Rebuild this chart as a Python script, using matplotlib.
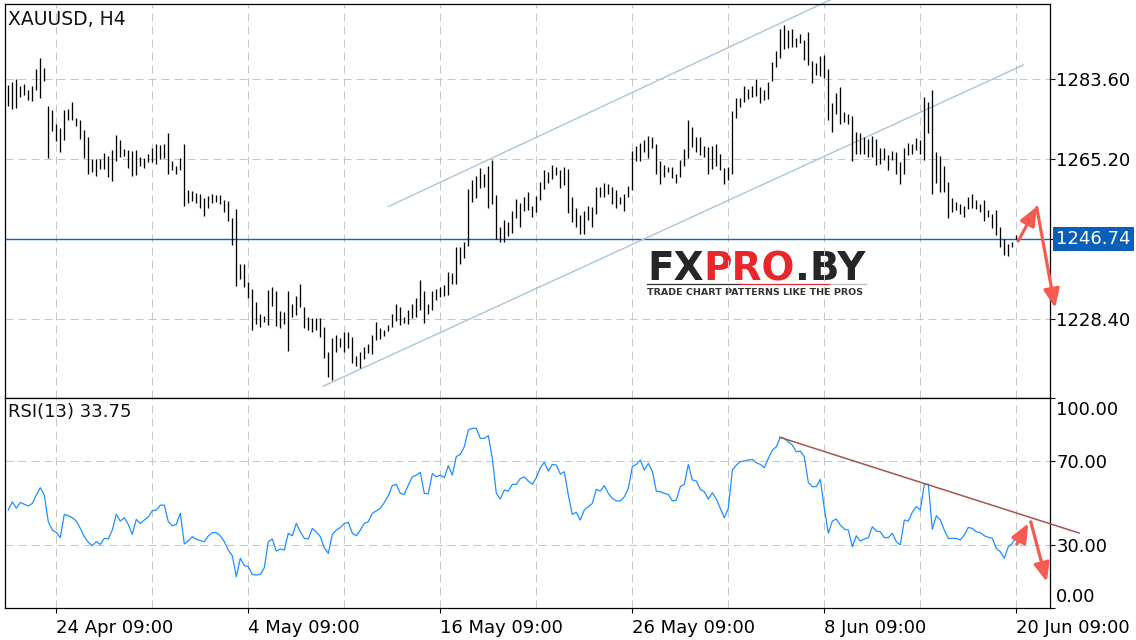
import numpy as np
import matplotlib.pyplot as plt
from matplotlib.transforms import blended_transform_factory

plt.rcParams['font.family'] = ['DejaVu Sans']

# H4 bars of XAUUSD (bar index 0 .. 252)
highs = [
    1282.1, 1282.9, 1283.5, 1281.9, 1282.4, 1281.0, 1281.9, 1285.8, 1288.3, 1286.1,
    1277.3, 1276.4, 1273.2, 1272.2, 1276.4, 1276.6, 1278.2, 1274.6, 1274.0, 1271.8,
    1270.3, 1265.1, 1265.1, 1265.1, 1266.6, 1265.8, 1267.2, 1270.6, 1269.5, 1267.4,
    1267.2, 1267.0, 1267.1, 1265.7, 1265.3, 1266.2, 1267.7, 1268.5, 1268.3, 1268.6,
    1271.1, 1264.7, 1263.6, 1265.4, 1268.6, 1258.0, 1257.8, 1257.4, 1257.1, 1256.2,
    1256.6, 1257.1, 1256.9, 1256.8, 1255.7, 1255.5, 1251.5, 1253.6, 1241.1, 1241.1,
    1236.8, 1235.2, 1232.2, 1229.4, 1229.0, 1235.0, 1235.8, 1234.8, 1230.1, 1229.9,
    1234.8, 1231.8, 1233.6, 1236.5, 1231.2, 1228.7, 1228.6, 1228.5, 1228.5, 1226.5,
    1220.8, 1223.9, 1224.6, 1224.0, 1225.4, 1225.4, 1224.3, 1219.8, 1220.7, 1222.0,
    1222.6, 1224.6, 1227.7, 1226.2, 1225.8, 1226.9, 1229.6, 1231.8, 1231.2, 1228.9,
    1230.4, 1231.9, 1233.2, 1237.3, 1234.8, 1231.7, 1234.8, 1235.2, 1235.6, 1236.1,
    1239.2, 1239.0, 1244.9, 1244.8, 1246.0, 1258.2, 1260.3, 1261.3, 1263.0, 1261.8,
    1263.6, 1265.0, 1256.8, 1249.6, 1251.1, 1250.7, 1253.2, 1255.9, 1255.1, 1256.3,
    1257.5, 1254.4, 1256.6, 1259.8, 1262.6, 1262.2, 1263.7, 1263.4, 1262.7, 1263.4,
    1262.8, 1256.3, 1253.8, 1252.3, 1253.2, 1254.4, 1254.2, 1258.8, 1258.8, 1259.7,
    1259.3, 1258.7, 1258.0, 1256.3, 1257.2, 1258.9, 1267.0, 1268.2, 1268.9, 1269.5,
    1270.4, 1270.3, 1268.7, 1264.7, 1263.7, 1263.4, 1263.4, 1261.8, 1264.9, 1267.4,
    1274.1, 1272.4, 1270.1, 1270.1, 1268.1, 1268.0, 1268.1, 1268.7, 1266.3, 1263.0,
    1263.4, 1276.2, 1279.1, 1279.2, 1281.9, 1281.2, 1282.0, 1283.5, 1281.6, 1281.0,
    1282.9, 1287.4, 1290.0, 1295.0, 1296.0, 1294.8, 1295.0, 1293.0, 1293.8, 1292.5,
    1294.3, 1287.7, 1287.1, 1288.9, 1289.0, 1285.8, 1277.9, 1280.4, 1281.6, 1275.9,
    1275.6, 1275.1, 1271.3, 1271.2, 1270.1, 1269.7, 1270.4, 1269.8, 1267.6, 1267.7,
    1266.1, 1267.0, 1266.7, 1264.4, 1267.6, 1268.9, 1268.7, 1269.9, 1269.6, 1279.5,
    1278.2, 1281.0, 1266.7, 1265.9, 1263.6, 1259.8, 1256.1, 1255.3, 1254.9, 1254.4,
    1256.5, 1257.2, 1255.8, 1254.9, 1255.7, 1253.4, 1252.5, 1253.4, 1249.4, 1246.7,
    1245.7, 1246.0, 1247.6,
]
lows = [
    1277.3, 1276.7, 1276.8, 1279.5, 1279.9, 1278.7, 1278.5, 1281.0, 1279.2, 1283.1,
    1265.4, 1271.6, 1269.3, 1266.8, 1269.5, 1274.0, 1274.1, 1272.8, 1269.7, 1265.4,
    1261.8, 1262.2, 1261.3, 1262.8, 1262.8, 1261.1, 1260.1, 1264.7, 1265.7, 1265.9,
    1263.1, 1261.3, 1261.4, 1263.6, 1263.1, 1264.5, 1264.5, 1264.1, 1265.1, 1265.3,
    1261.8, 1262.6, 1261.8, 1262.6, 1254.4, 1255.1, 1255.5, 1255.1, 1253.9, 1252.1,
    1253.9, 1255.1, 1255.2, 1254.9, 1252.9, 1250.9, 1245.3, 1236.0, 1237.5, 1235.6,
    1233.2, 1225.9, 1227.1, 1226.4, 1227.7, 1226.9, 1231.4, 1226.7, 1226.2, 1227.3,
    1221.0, 1228.9, 1229.2, 1231.0, 1226.3, 1225.9, 1225.4, 1225.8, 1224.1, 1219.3,
    1215.1, 1214.3, 1220.8, 1221.8, 1220.8, 1221.6, 1218.3, 1217.5, 1217.0, 1219.1,
    1220.6, 1220.4, 1223.5, 1223.7, 1224.4, 1225.6, 1226.4, 1227.9, 1226.9, 1227.5,
    1227.2, 1228.5, 1228.9, 1230.4, 1227.5, 1229.6, 1230.4, 1232.7, 1233.5, 1233.6,
    1233.8, 1236.4, 1236.4, 1241.0, 1242.3, 1245.1, 1255.3, 1256.2, 1258.4, 1258.8,
    1253.9, 1254.9, 1246.8, 1246.1, 1246.1, 1247.4, 1248.2, 1251.5, 1249.6, 1253.2,
    1253.4, 1251.9, 1253.0, 1255.7, 1258.3, 1259.7, 1260.5, 1261.5, 1258.4, 1259.1,
    1252.8, 1250.7, 1249.4, 1248.0, 1248.0, 1251.1, 1249.6, 1252.6, 1256.5, 1256.5,
    1257.0, 1254.8, 1253.9, 1254.9, 1253.2, 1256.3, 1258.0, 1264.7, 1264.7, 1266.7,
    1265.3, 1267.6, 1261.8, 1259.5, 1261.1, 1262.2, 1260.7, 1259.7, 1261.1, 1263.6,
    1265.3, 1268.0, 1266.7, 1266.1, 1265.7, 1261.7, 1262.8, 1263.5, 1262.6, 1259.3,
    1260.3, 1261.7, 1274.5, 1277.2, 1278.3, 1278.9, 1279.3, 1279.6, 1277.9, 1278.7,
    1278.9, 1283.1, 1286.4, 1288.3, 1290.4, 1290.6, 1291.0, 1291.0, 1291.7, 1287.9,
    1286.7, 1282.7, 1284.4, 1284.2, 1283.7, 1274.0, 1271.4, 1275.6, 1273.3, 1273.6,
    1273.2, 1264.7, 1266.3, 1266.3, 1266.4, 1265.7, 1265.7, 1263.8, 1264.1, 1265.0,
    1262.6, 1265.0, 1261.7, 1259.3, 1261.8, 1266.1, 1266.3, 1267.2, 1266.4, 1265.0,
    1271.2, 1257.2, 1259.7, 1257.5, 1257.5, 1251.6, 1252.9, 1253.4, 1252.5, 1251.9,
    1253.6, 1253.8, 1253.6, 1252.9, 1250.9, 1251.9, 1249.3, 1247.6, 1245.0, 1243.0,
    1242.9, 1244.8, 1246.7,
]
rsi = [
    46.7, 50.6, 47.5, 50.3, 49.4, 48.6, 49.8, 53.8, 57.3, 53.8,
    41.1, 37.1, 36.0, 33.5, 44.6, 44.0, 43.0, 41.4, 37.9, 34.0,
    31.3, 29.7, 31.6, 30.3, 33.2, 32.9, 37.1, 44.6, 41.4, 43.0,
    39.8, 35.1, 42.2, 40.3, 41.9, 43.5, 46.3, 46.7, 49.0, 49.0,
    41.1, 39.2, 39.8, 45.1, 30.5, 31.9, 34.0, 32.7, 32.1, 31.6,
    34.3, 35.9, 35.9, 34.4, 31.6, 27.6, 24.9, 14.9, 23.7, 20.2,
    19.7, 16.0, 15.7, 16.0, 19.2, 31.6, 32.9, 27.1, 28.1, 27.6,
    35.6, 34.4, 40.3, 36.3, 33.2, 32.9, 37.9, 36.3, 34.0, 28.7,
    26.0, 35.1, 37.1, 38.3, 40.3, 40.8, 35.6, 34.4, 37.1, 40.3,
    41.1, 45.1, 46.3, 47.5, 50.2, 53.5, 58.3, 58.9, 54.6, 54.1,
    58.6, 62.5, 63.3, 64.6, 54.6, 54.4, 64.1, 62.5, 63.3, 62.1,
    67.8, 63.3, 72.1, 73.2, 76.8, 84.8, 85.6, 85.6, 80.8, 80.8,
    82.1, 71.3, 54.6, 51.9, 56.2, 55.7, 58.9, 58.9, 61.7, 62.4,
    60.5, 58.9, 62.1, 66.8, 69.4, 65.2, 68.4, 68.1, 63.8, 64.9,
    53.8, 44.6, 45.6, 41.9, 46.7, 48.3, 49.8, 56.5, 55.7, 58.3,
    54.6, 52.2, 51.0, 51.0, 53.0, 57.0, 67.3, 68.4, 70.5, 65.7,
    68.9, 65.2, 55.7, 55.4, 54.6, 54.1, 51.0, 51.4, 57.8, 58.9,
    68.4, 61.0, 60.5, 56.5, 55.4, 51.9, 54.9, 51.9, 47.5, 43.0,
    47.5, 65.7, 68.1, 69.7, 70.0, 70.5, 70.8, 69.2, 68.4, 66.8,
    71.3, 75.2, 76.8, 81.3, 80.8, 79.2, 77.6, 74.4, 74.8, 72.1,
    59.8, 57.8, 57.8, 61.3, 47.5, 35.6, 41.4, 42.4, 39.5, 37.6,
    37.1, 29.2, 34.4, 31.9, 32.9, 33.5, 38.7, 36.7, 36.3, 33.5,
    33.5, 35.6, 31.6, 30.0, 41.9, 41.4, 45.6, 48.3, 46.7, 58.9,
    58.9, 37.5, 44.0, 41.9, 37.1, 33.2, 33.2, 33.2, 32.4, 34.8,
    38.4, 37.9, 36.3, 35.9, 34.4, 33.7, 33.2, 28.4, 26.8, 23.7,
    29.2, 30.8, 33.75,
]
last_price = 1246.74
rsi_last = 33.75

date_ticks = [12, 60, 108, 156, 204, 252]
date_labels = ['24 Apr 09:00', '4 May 09:00', '16 May 09:00',
               '26 May 09:00', '8 Jun 09:00', '20 Jun 09:00']
price_ticks = [1228.40, 1246.80, 1265.20, 1283.60]
price_labels = ['1228.40', '', '1265.20', '1283.60']

# drawn objects (bar index, price / rsi)
channel_upper = ([95.0, 205.4], [1254.2, 1301.7])
channel_lower = ([78.75, 253.75], [1212.9, 1286.75])
rsi_trend = ([192.9, 267.7], [81.3, 35.7])
price_arrows = [((252.5, 1246.3), (257.1, 1254.2)),
                ((257.1, 1254.0), (261.7, 1230.9))]
rsi_arrows = [((252.1, 30.3), (255.0, 40.3)),
              ((255.6, 41.1), (259.6, 12.5))]

idx = np.arange(len(highs))
grid_kw = dict(color='#c6c6c6', linestyle=(0, (8, 5)), linewidth=0.72)
arrow_col = '#f55b4f'

fig = plt.figure(figsize=(11.36, 6.4), dpi=100)
ax1 = fig.add_axes([0.00414, 0.378, 0.9202, 0.61575])
ax2 = fig.add_axes([0.00414, 0.05, 0.9202, 0.328], sharex=ax1)

# price panel
ax1.vlines(idx, lows, highs, color='black', linewidth=0.95, zorder=3)
ax1.axhline(last_price, color='#0a64c8', linewidth=1.0, zorder=2)
ax1.plot(*channel_upper, color='#aac5d8', linewidth=1.0, clip_on=False, zorder=2)
ax1.plot(*channel_lower, color='#aac5d8', linewidth=1.0, zorder=2)
for (x0, y0), (x1, y1) in price_arrows:
    ax1.annotate('', xy=(x1, y1), xytext=(x0, y0), annotation_clip=False,
                 arrowprops=dict(arrowstyle='-|>,head_length=0.75,head_width=0.32',
                                 mutation_scale=15, color=arrow_col, lw=2.3,
                                 shrinkA=0, shrinkB=0), zorder=5)

ax1.set_xlim(-0.9, 260.43)
ax1.set_ylim(1210.16, 1300.78)
ax1.yaxis.tick_right()
ax1.set_yticks(price_ticks)
ax1.set_yticklabels(price_labels)
ax1.tick_params(axis='y', length=3.6, width=0.8, pad=1, labelsize=13)
ax1.tick_params(axis='x', length=0, labelbottom=False)
ax1.grid(True, axis='y', **grid_kw)

trans = blended_transform_factory(ax1.transAxes, ax1.transData)
ax1.text(1.0057, last_price, '%.2f' % last_price, transform=trans, color='white',
         fontsize=13, ha='left', va='center', clip_on=False,
         bbox=dict(boxstyle='square,pad=0.18', fc='#0a5fb8', ec='none'))
ax1.text(0.0035, 0.985, 'XAUUSD, H4', transform=ax1.transAxes, fontsize=13.5,
         ha='left', va='top', color='#111111')

# watermark logo
t1 = ax1.text(0.6145, 0.2995, 'FX', transform=ax1.transAxes, fontsize=28,
              fontweight='heavy', color='#262626', va='baseline', zorder=1)
t2 = ax1.annotate('PRO', xy=(1, 0), xycoords=t1, fontsize=28, fontweight='heavy',
                  color='#e8262b', va='bottom', ha='left', zorder=1)
ax1.annotate('.BY', xy=(1, 0), xycoords=t2, fontsize=28, fontweight='heavy',
             color='#262626', va='bottom', ha='left', zorder=1)
ax1.plot([0.6145, 0.7034], [0.2906, 0.2906], transform=ax1.transAxes,
         color='#333333', linewidth=0.9, zorder=1)
ax1.plot([0.7034, 0.7896], [0.2906, 0.2906], transform=ax1.transAxes,
         color='#e8262b', linewidth=0.9, zorder=1)
ax1.plot([0.7896, 0.824], [0.2906, 0.2906], transform=ax1.transAxes,
         color='#bbbbbb', linewidth=0.9, zorder=1)
ax1.text(0.6145, 0.2614, 'TRADE CHART PATTERNS LIKE THE PROS', transform=ax1.transAxes,
         fontsize=6.8, fontweight='bold', color='#333333', va='baseline', zorder=1)

# RSI panel
ax2.plot(idx, rsi, color='#1e90ff', linewidth=0.9, zorder=3)
ax2.plot(*rsi_trend, color='#a2554f', linewidth=1.1, clip_on=False, zorder=4)
for (x0, y0), (x1, y1) in rsi_arrows:
    ax2.annotate('', xy=(x1, y1), xytext=(x0, y0), annotation_clip=False,
                 arrowprops=dict(arrowstyle='-|>,head_length=0.75,head_width=0.32',
                                 mutation_scale=15, color=arrow_col, lw=2.3,
                                 shrinkA=0, shrinkB=0), zorder=5)
ax2.set_ylim(0, 100)
ax2.yaxis.tick_right()
ax2.set_yticks([0, 30, 70, 100])
ax2.set_yticklabels(['', '30.00', '70.00', ''])
ax2.tick_params(axis='y', length=3.6, width=0.8, pad=1, labelsize=13)
trans2 = blended_transform_factory(ax2.transAxes, ax2.transData)
ax2.text(1.0057, 94.3, '100.00', transform=trans2, fontsize=13, ha='left', va='center')
ax2.text(1.0057, 5.1, '0.00', transform=trans2, fontsize=13, ha='left', va='center')
ax2.text(0.0035, 0.975, 'RSI(13) %.2f' % rsi_last, transform=ax2.transAxes,
         fontsize=13, ha='left', va='top', color='#111111')

ax2.set_xticks(date_ticks)
ax2.set_xticklabels(date_labels)
ax2.set_xticks(np.arange(36, 253, 48), minor=True)
ax2.tick_params(axis='x', which='major', length=3.6, width=0.8, pad=4, labelsize=13)
ax2.tick_params(axis='x', which='minor', length=0)
for lab in ax2.get_xticklabels():
    lab.set_ha('left')
ax2.grid(True, axis='y', **grid_kw)
for ax in (ax1, ax2):
    ax.grid(True, axis='x', which='both', **grid_kw)
    for sp in ax.spines.values():
        sp.set_linewidth(0.9)
        sp.set_color('black')

fig.savefig('out.png', dpi=100)
